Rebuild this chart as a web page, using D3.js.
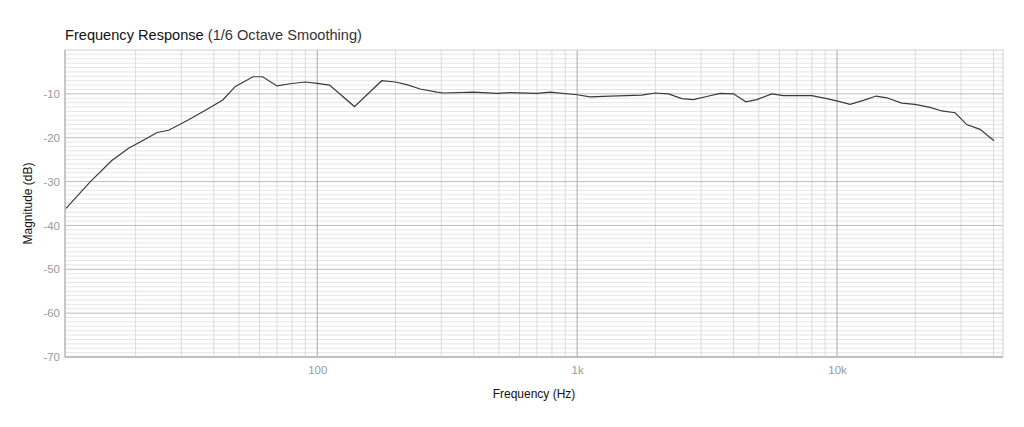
<!DOCTYPE html>
<html>
<head>
<meta charset="utf-8">
<script src="https://cdn.jsdelivr.net/npm/d3@7"></script>
<style>
  body { margin: 0; background: #fff; }
  text { font-family: "Liberation Sans", Arial, sans-serif; }
</style>
</head>
<body>
<svg width="1024" height="427"></svg>
<script>
var freqs = [10.8, 13.4, 16.2, 18.8, 21.5, 24.2, 26.8, 32, 37.7, 43.3, 48.4, 56.6, 61.6, 70, 78.7, 89.9,
  100, 111.5, 139, 177, 199.5, 221, 249, 289, 306, 399, 491, 552, 699, 787, 998, 1122, 1340,
  1774, 1995, 2245, 2527, 2801, 3155, 3548, 3993, 4456, 4910, 5607, 6214, 7993, 9129, 9970,
  11220, 12630, 14130, 15530, 17740, 19950, 22790, 25290, 28450, 31560, 35490, 40180];
var magnitude = [-36.1, -30.0, -25.2, -22.4, -20.5, -18.8, -18.3, -15.9, -13.5, -11.4, -8.3, -6.1, -6.1, -8.2, -7.7, -7.3,
  -7.6, -8.0, -12.9, -7.0, -7.3, -7.9, -8.9, -9.6, -9.8, -9.6, -9.9, -9.7, -9.9, -9.6, -10.2, -10.7, -10.5,
  -10.3, -9.8, -10.0, -11.1, -11.3, -10.6, -9.9, -10.0, -11.8, -11.3, -10.0, -10.4, -10.4, -11.1, -11.6,
  -12.4, -11.5, -10.5, -10.9, -12.1, -12.4, -13.1, -13.9, -14.3, -17.0, -18.1, -20.7];
var yTicks = [-10, -20, -30, -40, -50, -60, -70];
var xTicks = [100, 1000, 10000];
var xTickLabels = ["100", "1k", "10k"];

var svg = d3.select("svg");
var margin = { top: 50, right: 21, bottom: 70, left: 65 };
var width = 1024 - margin.left - margin.right;
var height = 427 - margin.top - margin.bottom;

var x = d3.scaleLog().domain([10.7, 43500]).range([0, width]);
var y = d3.scaleLinear().domain([-70, 0]).range([height, 0]);

var g = svg.append("g")
    .attr("transform", "translate(" + margin.left + "," + margin.top + ")");

// minor horizontal grid, every 1 dB
g.append("g")
    .selectAll("line")
    .data(d3.range(-69, 0, 1).filter(function (d) { return d % 10 !== 0; }))
    .join("line")
    .attr("x1", 0).attr("x2", width)
    .attr("y1", function (d) { return y(d); })
    .attr("y2", function (d) { return y(d); })
    .attr("stroke", "#e6e6e6")
    .attr("stroke-width", 1);

// minor vertical grid
var minor = [];
[10, 100, 1000, 10000].forEach(function (dec) {
  for (var k = 2; k <= 9; k++) {
    if (dec * k > 10.7 && dec * k < 43500) minor.push(dec * k);
  }
});
g.append("g")
    .selectAll("line")
    .data(minor)
    .join("line")
    .attr("x1", function (d) { return x(d); })
    .attr("x2", function (d) { return x(d); })
    .attr("y1", 0).attr("y2", height)
    .attr("stroke", "#dcdcdc")
    .attr("stroke-width", 1);

// major grid
g.append("g")
    .selectAll("line")
    .data(yTicks)
    .join("line")
    .attr("x1", 0).attr("x2", width)
    .attr("y1", function (d) { return y(d); })
    .attr("y2", function (d) { return y(d); })
    .attr("stroke", "#bdbdbd");

g.append("g")
    .selectAll("line")
    .data(xTicks)
    .join("line")
    .attr("x1", function (d) { return x(d); })
    .attr("x2", function (d) { return x(d); })
    .attr("y1", 0).attr("y2", height)
    .attr("stroke", "#a8a8a8");

// frame
g.append("rect")
    .attr("x", 0).attr("y", 0)
    .attr("width", width).attr("height", height)
    .attr("fill", "none")
    .attr("stroke", "#cfcfcf");

g.append("line")
    .attr("x1", 0).attr("x2", 0).attr("y1", 0).attr("y2", height)
    .attr("stroke", "#a8a8a8");
g.append("line")
    .attr("x1", 0).attr("x2", width).attr("y1", height).attr("y2", height)
    .attr("stroke", "#a8a8a8");

// axes
var yAxis = g.append("g")
    .call(d3.axisLeft(y).tickValues(yTicks)
      .tickFormat(function (d) { return String(d); })
      .tickSize(0).tickPadding(5));
yAxis.select(".domain").remove();
yAxis.selectAll("text")
    .attr("fill", "#9a9a9a")
    .style("font-size", "11.5px");

var xAxis = g.append("g")
    .attr("transform", "translate(0," + height + ")")
    .call(d3.axisBottom(x).tickValues(xTicks)
      .tickFormat(function (d, i) { return xTickLabels[i]; })
      .tickSize(0).tickPadding(9));
xAxis.select(".domain").remove();
xAxis.selectAll("text")
    .attr("fill", "#9a9a9a")
    .style("font-size", "11.5px");

// line
var line = d3.line()
    .x(function (d, i) { return x(freqs[i]); })
    .y(function (d) { return y(d); });

g.append("path")
    .datum(magnitude)
    .attr("d", line)
    .attr("fill", "none")
    .attr("stroke", "#3a3a3a")
    .attr("stroke-width", 1.2);

// titles
var title = svg.append("text")
    .attr("x", 65)
    .attr("y", 40)
    .style("font-size", "14.6px")
    .attr("fill", "#111");
title.append("tspan").text("Frequency Response").style("font-weight", "500");
title.append("tspan").text(" (1/6 Octave Smoothing)").attr("fill", "#333");

svg.append("text")
    .attr("x", margin.left + width / 2)
    .attr("y", 398)
    .attr("text-anchor", "middle")
    .style("font-size", "12px")
    .attr("fill", "#111")
    .text("Frequency (Hz)");

svg.append("text")
    .attr("transform", "translate(32," + (margin.top + height / 2) + ") rotate(-90)")
    .attr("text-anchor", "middle")
    .style("font-size", "12px")
    .attr("fill", "#111")
    .text("Magnitude (dB)");
</script>
</body>
</html>
